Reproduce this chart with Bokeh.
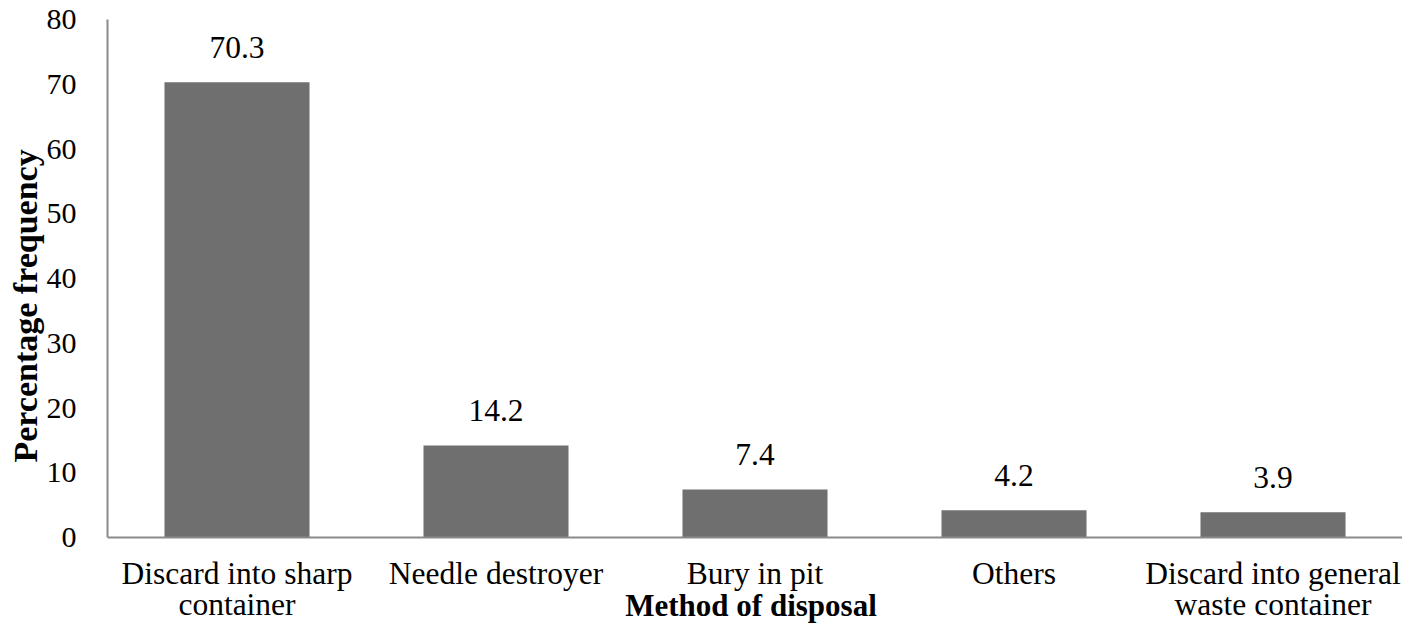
from bokeh.plotting import figure
from bokeh.models import ColumnDataSource, Range1d, FixedTicker, Title, Span
from bokeh.core.properties import value
from bokeh.embed import file_html
from bokeh.resources import INLINE

categories = ["Discard into sharp\ncontainer", "Needle destroyer", "Bury in pit", "Others",
              "Discard into general\nwaste container"]
values = [70.3, 14.2, 7.4, 4.2, 3.9]
value_labels = ["70.3", "14.2", "7.4", "4.2", "3.9"]
y_ticks = [0, 10, 20, 30, 40, 50, 60, 70, 80]
x_title = "Method of disposal"
y_title = "Percentage frequency"

FONT = "Liberation Serif"

src = ColumnDataSource(dict(cat=categories, val=values, lab=value_labels))

p = figure(width=1402, height=625, x_range=categories, y_range=Range1d(-13.59, 80),
           output_backend="svg", toolbar_location=None,
           min_border_left=107, min_border_right=0, min_border_top=19, min_border_bottom=0)

p.vbar(x="cat", top="val", width=0.56, source=src, fill_color="#6f6f6f", line_color=None)
p.text(x="cat", y="val", text="lab", source=src, text_align="center",
       text_baseline="alphabetic", y_offset=-35, text_font=value(FONT),
       text_font_size="31.5px", text_color="#000000")

# category labels below the baseline
p.text(x="cat", y=0, text="cat", source=src, text_align="center", text_baseline="top",
       y_offset=18, text_font=value(FONT), text_font_size="31.5px", text_color="#000000",
       text_line_height=0.9)
# x axis title
p.text(x=[categories[2]], y=[0], text=[x_title], text_align="center",
       text_baseline="alphabetic", x_offset=-4, y_offset=68, text_font=value(FONT),
       text_font_size="31px", text_font_style="bold", text_color="#000000")

p.add_layout(Span(location=0, dimension="width", line_color="#8a8a8a", line_width=2))

p.xgrid.grid_line_color = None
p.ygrid.grid_line_color = None
p.outline_line_color = None
p.background_fill_color = "white"
p.xaxis.visible = False

ax = p.yaxis[0]
ax.bounds = (0, 80)
ax.axis_line_color = "#8a8a8a"
ax.axis_line_width = 2
ax.major_tick_line_color = None
ax.minor_tick_line_color = None
ax.major_label_text_font = FONT
ax.major_label_text_color = "#000000"
ax.ticker = FixedTicker(ticks=y_ticks)
ax.major_label_text_font_size = "30px"
ax.major_label_standoff = 25

ytitle = Title(text=y_title, align="left", offset=163,
               text_font=FONT, text_font_size="34px", text_font_style="bold",
               text_color="#000000", standoff=0)
p.add_layout(ytitle, "left")

open("out.html", "w").write(file_html(p, INLINE))
